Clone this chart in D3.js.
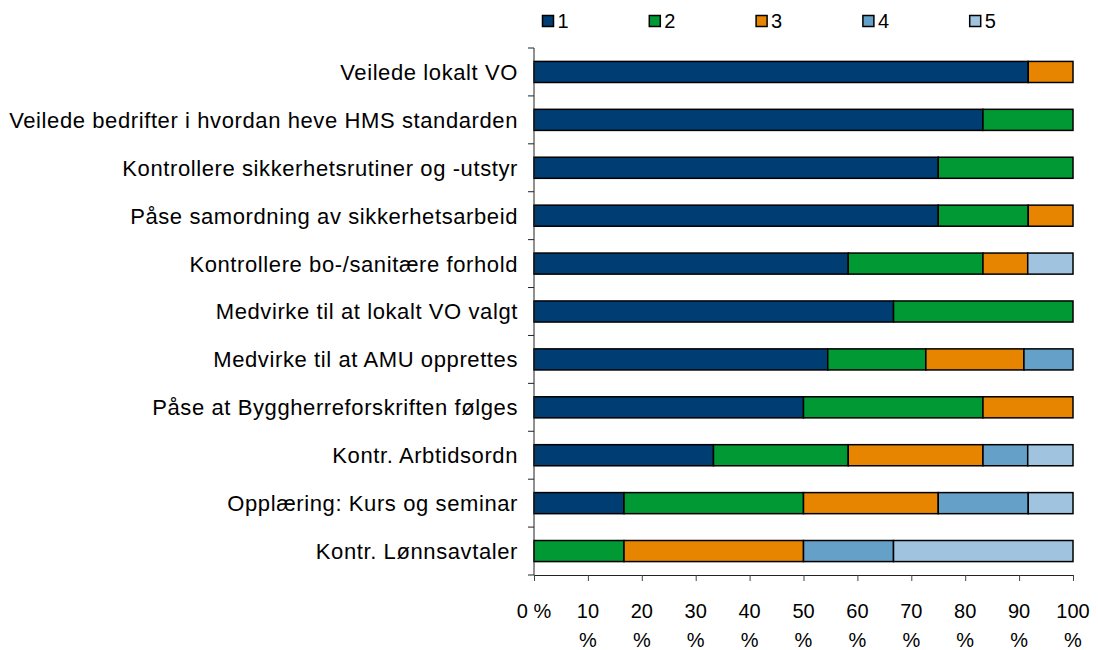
<!DOCTYPE html>
<html>
<head>
<meta charset="utf-8">
<script src="https://cdn.jsdelivr.net/npm/d3@7"></script>
<style>
  body { margin: 0; background: #fff; }
  text { font-family: "Liberation Sans", Arial, sans-serif; fill: #000; }
</style>
</head>
<body>
<script>
"use strict"

var categories = [
    "Veilede lokalt VO",
    "Veilede bedrifter i hvordan heve HMS standarden",
    "Kontrollere sikkerhetsrutiner og -utstyr",
    "Påse samordning av sikkerhetsarbeid",
    "Kontrollere bo-/sanitære forhold",
    "Medvirke til at lokalt VO valgt",
    "Medvirke til at AMU opprettes",
    "Påse at Byggherreforskriften følges",
    "Kontr. Arbtidsordn",
    "Opplæring: Kurs og seminar",
    "Kontr. Lønnsavtaler"
];
var seriesNames = ["1", "2", "3", "4", "5"];
var s1 = [91.7, 83.3, 75, 75, 58.3, 66.7, 54.5, 50, 33.3, 16.7, 0];
var s2 = [0, 16.7, 25, 16.7, 25, 33.3, 18.2, 33.3, 25, 33.3, 16.7];
var s3 = [8.3, 0, 0, 8.3, 8.3, 0, 18.2, 16.7, 25, 25, 33.3];
var s4 = [0, 0, 0, 0, 0, 0, 9.1, 0, 8.3, 16.7, 16.7];
var s5 = [0, 0, 0, 0, 8.4, 0, 0, 0, 8.4, 8.3, 33.3];
var colors = ["#003d73", "#009933", "#e88500", "#64a0c8", "#a0c4e0"];
var xTicks = [0, 10, 20, 30, 40, 50, 60, 70, 80, 90, 100];

var rows = categories.map(function(c, i) {
    return {cat: c, "1": s1[i], "2": s2[i], "3": s3[i], "4": s4[i], "5": s5[i]};
});
var stacked = d3.stack().keys(seriesNames)(rows);

var margin = {top: 48, left: 534},
    width = 539,
    height = 527;

var svg = d3.select("body").append("svg")
    .attr("width", 1098)
    .attr("height", 650)
  .append("g")
    .attr("transform", "translate(" + margin.left + "," + margin.top + ")");

var x = d3.scaleLinear().domain([0, 100]).range([0, width]);
var y = d3.scaleBand().domain(categories).range([0, height]).paddingInner(0.56).paddingOuter(0.28);

// bars
svg.selectAll("g.series")
    .data(stacked)
  .enter().append("g")
    .attr("class", "series")
    .attr("fill", function(d, i) { return colors[i]; })
  .selectAll("rect")
    .data(function(d) { return d.filter(function(p) { return p[1] - p[0] > 0; }); })
  .enter().append("rect")
    .attr("x", function(d) { return x(d[0]); })
    .attr("y", function(d) { return y(d.data.cat); })
    .attr("width", function(d) { return x(d[1]) - x(d[0]); })
    .attr("height", y.bandwidth())
    .attr("stroke", "#000")
    .attr("stroke-width", 1.5);

// y axis, ticks between the categories
var yAxis = svg.append("g");
yAxis.append("line")
    .attr("x1", 0).attr("x2", 0)
    .attr("y1", 0).attr("y2", height)
    .attr("stroke", "#222");
yAxis.selectAll("line.tick")
    .data(d3.range(categories.length + 1))
  .enter().append("line")
    .attr("class", "tick")
    .attr("x1", -6).attr("x2", 0)
    .attr("y1", function(i) { return i * height / categories.length; })
    .attr("y2", function(i) { return i * height / categories.length; })
    .attr("stroke", "#222");
yAxis.selectAll("text")
    .data(categories)
  .enter().append("text")
    .attr("x", -16)
    .attr("y", function(d) { return y(d) + y.bandwidth() / 2; })
    .attr("dy", "0.36em")
    .attr("text-anchor", "end")
    .attr("font-size", "22px")
    .attr("letter-spacing", "0.6px")
    .text(function(d) { return d; });

// x axis
var xAxis = svg.append("g")
    .attr("transform", "translate(0," + height + ")")
    .call(d3.axisBottom(x).tickValues(xTicks).tickSize(6).tickFormat(""));
xAxis.select(".domain").attr("stroke", "#222");
xAxis.selectAll(".tick line").attr("stroke", "#444");

// tick labels: "0 %" fits, the rest wrap onto two lines
var xl = svg.append("g").attr("transform", "translate(0," + height + ")");
xTicks.forEach(function(v) {
    var t = xl.append("text")
        .attr("x", x(v))
        .attr("y", 43)
        .attr("text-anchor", "middle")
        .attr("font-size", "20px");
    if (v == 0) {
        t.text("0 %");
    } else {
        t.append("tspan").attr("x", x(v)).text(v);
        t.append("tspan").attr("x", x(v)).attr("dy", 29).text("%");
    }
});

// legend
var legend = svg.append("g").attr("transform", "translate(0," + (-margin.top) + ")");
seriesNames.forEach(function(name, i) {
    var lx = 8.5 + i * 106.8;
    legend.append("rect")
        .attr("x", lx).attr("y", 15.5)
        .attr("width", 11).attr("height", 11)
        .attr("fill", colors[i])
        .attr("stroke", "#000")
        .attr("stroke-width", 1.5);
    legend.append("text")
        .attr("x", lx + 15)
        .attr("y", 28)
        .attr("font-size", "20px")
        .text(name);
});
</script>
</body>
</html>
